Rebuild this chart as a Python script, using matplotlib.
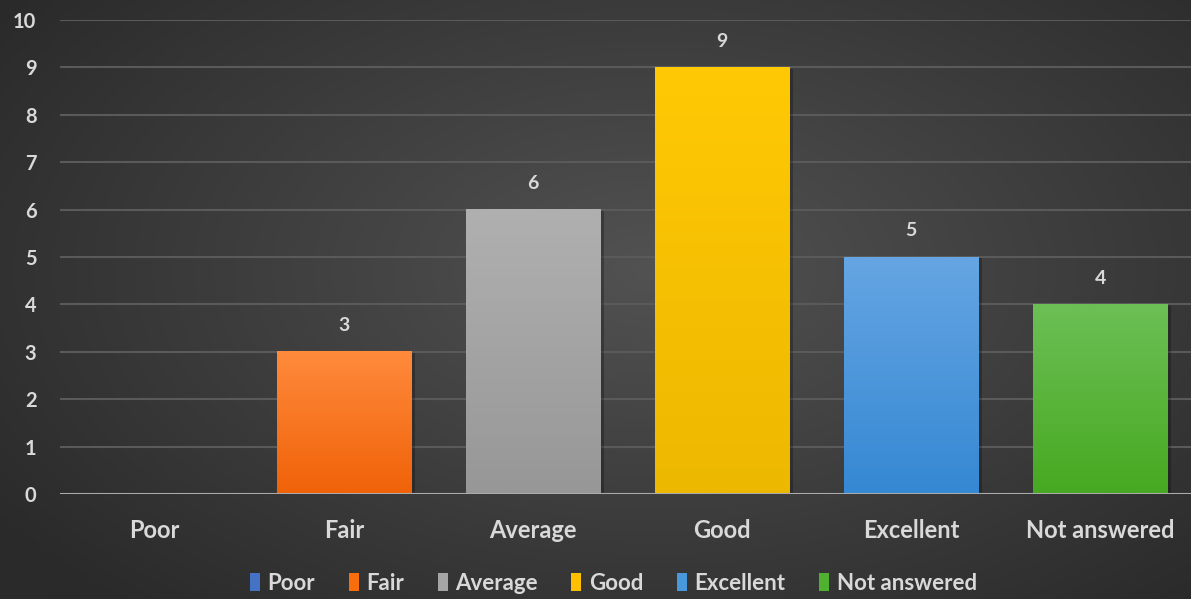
import numpy as np
import matplotlib
matplotlib.use("Agg")
import matplotlib.pyplot as plt
from matplotlib.patches import Patch
from matplotlib.colors import LinearSegmentedColormap

# data
categories = ["Poor", "Fair", "Average", "Good", "Excellent", "Not answered"]
counts = [0, 3, 6, 9, 5, 4]
yticks = list(range(0, 11))

# colours: (legend/flat, top of gradient, bottom of gradient)
flat_colors = ["#4472c4", "#f86e0c", "#a5a5a5", "#ffc000", "#4a98dc", "#50b030"]
top_colors = ["#5b86d6", "#ff8a3c", "#b0b0b0", "#ffc905", "#65a5e3", "#6cbf55"]
bot_colors = ["#3a63b8", "#f06208", "#979797", "#edb800", "#3588d3", "#47a921"]

txt = "#d9d9d9"
plt.rcParams['font.family'] = ['Lato', 'DejaVu Sans']

fig = plt.figure(figsize=(11.91, 5.99), dpi=100)

# radial background
bg = fig.add_axes([0, 0, 1, 1], zorder=-10)
yy, xx = np.mgrid[0:1:300j, 0:1:600j]
r = np.sqrt(((xx - 0.55) / 0.75) ** 2 + ((yy - 0.45) / 0.85) ** 2)
bg_cmap = LinearSegmentedColormap.from_list("bg", ["#525252", "#2a2a2a"])
bg.imshow(r, cmap=bg_cmap, aspect="auto", extent=[0, 1, 0, 1], vmin=0, vmax=0.9)
bg.axis("off")

ax = fig.add_axes([0.0504, 0.1753, 0.953, 0.7913])
ax.patch.set_alpha(0)
x = np.arange(len(categories))
width = 0.71

for i, (xi, v) in enumerate(zip(x, counts)):
    if v <= 0:
        continue
    cm = LinearSegmentedColormap.from_list("b%d" % i, [bot_colors[i], top_colors[i]])
    grad = np.linspace(0, 1, 100).reshape(-1, 1)
    # soft shadow
    ax.bar(xi + 0.02, v, width=width, bottom=-0.03, color="black", alpha=0.25, zorder=2)
    ax.imshow(grad, cmap=cm, origin="lower", aspect="auto",
              extent=[xi - width / 2, xi + width / 2, 0, v], zorder=3)
    ax.text(xi, v + 0.55, str(v), ha="center", va="center", color=txt,
            fontsize=14, fontweight="bold", zorder=5)

ax.set_xlim(-0.5, len(categories) - 0.5)
ax.set_ylim(0, 10)

ax.set_yticks(yticks)
ax.set_yticklabels([str(t) for t in yticks], color=txt, fontsize=14.5, fontweight="bold")
ax.set_xticks(x)
ax.set_xticklabels(categories, color=txt, fontsize=17, fontweight="bold")
ax.tick_params(axis="both", length=0)
ax.tick_params(axis="y", pad=17)
ax.tick_params(axis="x", pad=18)

ax.grid(axis="y", color="#5a5a5a", linewidth=1.5, zorder=1)
ax.set_axisbelow(True)
for s in ax.spines.values():
    s.set_visible(False)
ax.axhline(0, color="#ababab", linewidth=2.2, zorder=4)

handles = [Patch(facecolor=c, edgecolor="none", label=l) for c, l in zip(flat_colors, categories)]
fig.legend(handles=handles, loc="center", bbox_to_anchor=(0.515, 0.026), ncol=6,
           frameon=False, prop={"size": 16, "weight": "bold"}, labelcolor=txt,
           handlelength=0.45, handleheight=0.9, handletextpad=0.35, columnspacing=1.5)

fig.savefig("out.png", dpi=100)
